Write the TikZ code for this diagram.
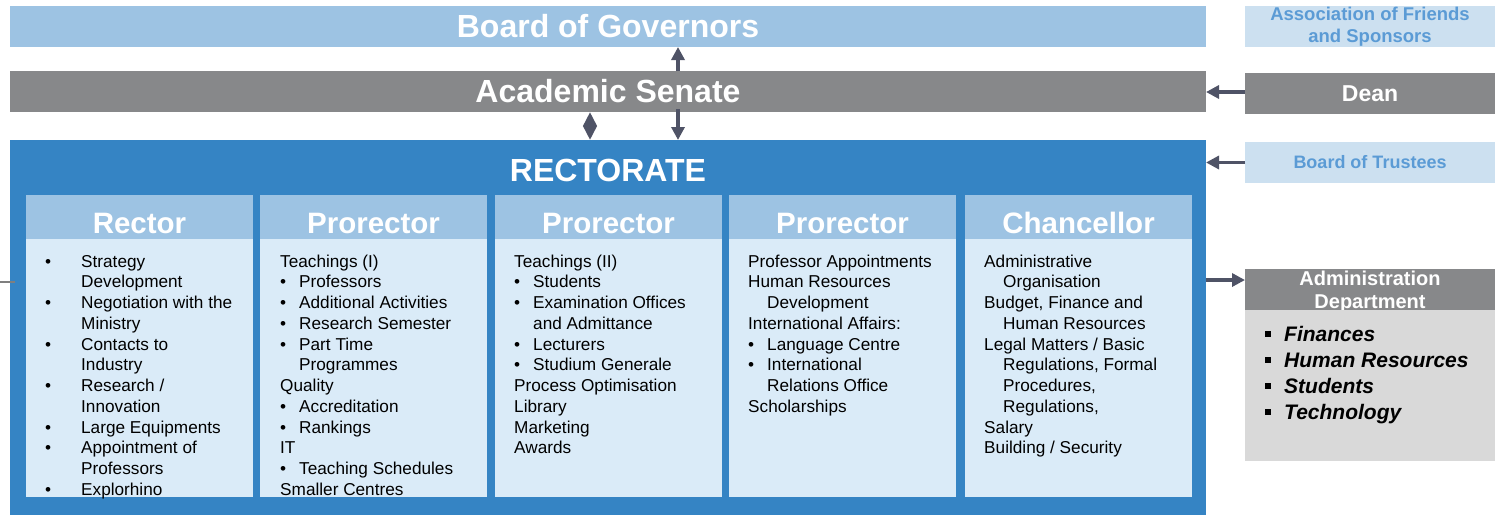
\documentclass[tikz,border=0pt]{standalone}
\usepackage{fontspec}
\setmainfont{Liberation Sans}
\usetikzlibrary{arrows.meta,calc}
\definecolor{boardblue}{HTML}{9DC3E3}
\definecolor{senategray}{HTML}{87888A}
\definecolor{rectblue}{HTML}{3584C4}
\definecolor{bodyblue}{HTML}{DAEBF8}
\definecolor{lightbox}{HTML}{CCE0F0}
\definecolor{assoctext}{HTML}{5B9BD5}
\definecolor{admgray}{HTML}{D9D9D9}
\definecolor{arrowc}{HTML}{4F5366}
\definecolor{leftgray}{HTML}{7F7F7F}
\newcommand{\colbul}[1]{\makebox[19pt][l]{\textbullet}#1}
\newcommand{\colhang}[1]{\hspace*{19pt}#1}
\newcommand{\rbul}[1]{\makebox[36pt][l]{\textbullet}#1}
\newcommand{\rhang}[1]{\hspace*{36pt}#1}
\newcommand{\sqbul}[1]{\makebox[19pt][l]{\rule[4.5pt]{6pt}{6pt}}#1}
\tikzset{
  bar/.style={rectangle, inner sep=0pt, outer sep=0pt, anchor=north west},
  bigtxt/.style={font=\fontsize{32}{37}\selectfont\bfseries, text=white},
  colhdr/.style={bar, fill=boardblue, minimum width=227pt, minimum height=44pt, text=white,
    font=\fontsize{29.5}{34}\selectfont\bfseries, text height=32pt, text depth=0pt},
  colbody/.style={bar, fill=bodyblue, minimum width=227pt, minimum height=258pt},
  coltext/.style={anchor=base west, align=left, inner sep=0pt,
    font=\fontsize{17.2}{20.75}\selectfont, text=black},
  sidebox/.style={bar, minimum width=250pt, minimum height=41pt, align=center},
  arr/.style={draw=arrowc, line width=3.5pt, -{Triangle[length=13pt,width=13pt]}},
  dblarr/.style={draw=arrowc, line width=3.5pt, {Triangle[length=14pt,width=13pt]}-{Triangle[length=14pt,width=13pt]}},
  leftline/.style={draw=leftgray, line width=1.5pt}
}
\begin{document}
\begin{tikzpicture}[x=1pt,y=-1pt]
\useasboundingbox (0,0) rectangle (1495,515);
% main bars
\node[bar, fill=boardblue, minimum width=1196pt, minimum height=41pt, bigtxt] (board) at (10,6) {Board of Governors};
\node[bar, fill=senategray, minimum width=1196pt, minimum height=41pt, bigtxt] (senate) at (10,71) {Academic Senate};
\node[bar, fill=rectblue, minimum width=1196pt, minimum height=375pt] (rect) at (10,140) {};
\node[bigtxt] (rtitle) at (608,170) {RECTORATE};
% side boxes
\node[sidebox, fill=lightbox, text=assoctext, font=\fontsize{18.5}{22.3}\selectfont\bfseries] (assoc) at (1245,6) {Association of Friends\\and Sponsors};
\node[sidebox, fill=senategray, text=white, font=\fontsize{23}{27}\selectfont\bfseries] (dean) at (1245,73) {Dean};
\node[sidebox, fill=lightbox, text=assoctext, font=\fontsize{18}{22}\selectfont\bfseries] (trust) at (1245,142) {Board of Trustees};
\node[sidebox, fill=senategray,
  label={[text=white, align=center, inner sep=0pt, yshift=-2.5pt, font=\fontsize{20}{23.5}\selectfont\bfseries]center:{Administration\\Department}}] (admhdr) at (1245,269) {};
\node[bar, fill=admgray, minimum width=250pt, minimum height=151pt] (admbody) at (1245,310) {};
\node[anchor=base west, align=left, inner sep=0pt, font=\fontsize{21}{25.8}\selectfont\bfseries\itshape] (admlist) at (1265,419.1)
  {\sqbul{Finances}\\\sqbul{Human Resources}\\\sqbul{Students}\\\sqbul{Technology}};
% columns
\node[colhdr] (h1) at (26,195) {Rector};
\node[colbody] (b1) at (26,239) {};
\node[colhdr] (h2) at (260,195) {Prorector};
\node[colbody] (b2) at (260,239) {};
\node[colhdr] (h3) at (495,195) {Prorector};
\node[colbody] (b3) at (495,239) {};
\node[colhdr] (h4) at (729,195) {Prorector};
\node[colbody] (b4) at (729,239) {};
\node[colhdr] (h5) at (965,195) {Chancellor};
\node[colbody] (b5) at (965,239) {};
% text nodes anchored at the baseline of their last line
\node[coltext] (t1) at (45,495.25) {\rbul{Strategy}\\\rhang{Development}\\\rbul{Negotiation with the}\\\rhang{Ministry}\\\rbul{Contacts to}\\\rhang{Industry}\\\rbul{Research /}\\\rhang{Innovation}\\\rbul{Large Equipments}\\\rbul{Appointment of}\\\rhang{Professors}\\\rbul{Explorhino}};
\node[coltext] (t2) at (280,495.25) {Teachings (I)\\\colbul{Professors}\\\colbul{Additional Activities}\\\colbul{Research Semester}\\\colbul{Part Time}\\\colhang{Programmes}\\Quality\\\colbul{Accreditation}\\\colbul{Rankings}\\IT\\\colbul{Teaching Schedules}\\Smaller Centres};
\node[coltext] (t3) at (514,453.75) {Teachings (II)\\\colbul{Students}\\\colbul{Examination Offices}\\\colhang{and Admittance}\\\colbul{Lecturers}\\\colbul{Studium Generale}\\Process Optimisation\\Library\\Marketing\\Awards};
\node[coltext] (t4) at (748,412.25) {Professor Appointments\\Human Resources\\\colhang{Development}\\International Affairs:\\\colbul{Language Centre}\\\colbul{International}\\\colhang{Relations Office}\\Scholarships};
\node[coltext] (t5) at (984,453.75) {Administrative\\\colhang{Organisation}\\Budget, Finance and\\\colhang{Human Resources}\\Legal Matters / Basic\\\colhang{Regulations, Formal}\\\colhang{Procedures,}\\\colhang{Regulations,}\\Salary\\Building / Security};
% connectors
\draw[arr] ([xshift=70pt]senate.north) -- ([xshift=70pt]board.south);
\draw[dblarr] ([xshift=-18pt]senate.south) -- ([xshift=-18pt]rect.north);
\draw[arr] ([xshift=70pt,yshift=3pt]senate.south) -- ([xshift=70pt]rect.north);
\draw[arr] ([yshift=1.5pt]dean.west) -- ([yshift=1.5pt]dean.west -| senate.east);
\draw[arr] (trust.west) -- (trust.west -| rect.east);
\coordinate (admin) at ($(admhdr.north west)+(0,11)$);
\draw[arr] (admin -| rect.east) -- (admin);
\coordinate (lend) at (0,282);
\draw[leftline] (lend) -- ([xshift=5pt]lend -| rect.west);
\end{tikzpicture}
\end{document}
